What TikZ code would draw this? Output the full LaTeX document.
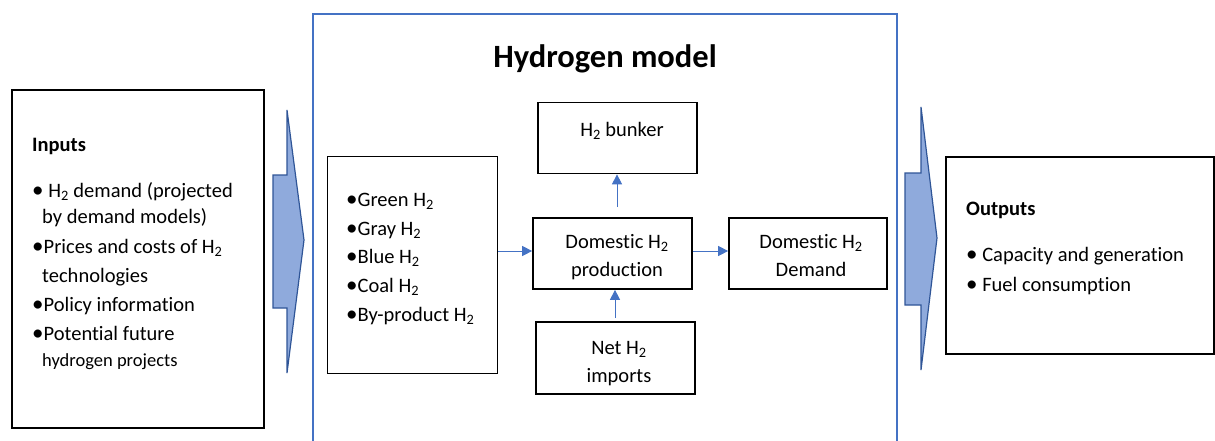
\documentclass[tikz,border=0pt]{standalone}
\usepackage{fontspec}
\setmainfont{Carlito}[Ligatures={NoCommon}]
\usetikzlibrary{arrows.meta}
\definecolor{frameblue}{HTML}{4472C4}
\definecolor{arrowfill}{HTML}{8FAADC}
\definecolor{arrowline}{HTML}{2F5597}
\newcommand{\Htwo}{H\textsubscript{2}}
\newcommand{\bul}{{\fontsize{23}{24}\selectfont •}}
\tikzset{
  boxnode/.style={draw=black, line width=1.7pt, inner sep=0pt},
  txt/.style={anchor=base west, inner sep=0pt, font=\fontsize{20.5}{24}\selectfont},
  ctxt/.style={anchor=base, inner sep=0pt, font=\fontsize{20.5}{24}\selectfont},
  headtxt/.style={anchor=base west, inner sep=0pt, font=\fontsize{20.5}{24}\selectfont\bfseries},
  flow/.style={draw=frameblue, line width=0.9pt, -{Triangle[length=10pt,width=10pt]}},
  blockarrow/.style={draw=arrowline, fill=arrowfill, line width=1.2pt, line join=miter}
}
\begin{document}
\begin{tikzpicture}[x=1pt,y=-1pt]
\useasboundingbox (0,0) rectangle (1215,441);
% main frame
\draw[frameblue, line width=1.4pt] (313,450) -- (313,14) -- (897,14) -- (897,450);
\node[anchor=base, inner sep=0pt, font=\fontsize{32.5}{36}\selectfont\bfseries] (title) at (605,68) {Hydrogen model};

% inputs
\node[boxnode, minimum width=252pt, minimum height=338pt] (inputs) at (138,259) {};
\node[headtxt] (inhead) at (32,151) {Inputs};
\node[txt] (in1) at (32,197) {\bul\ \Htwo{} demand (projected};
\node[txt] (in1b) at (42,223) {by demand models)};
\node[txt] (in2) at (32,253) {\bul Prices and costs of \Htwo};
\node[txt] (in2b) at (42,282) {technologies};
\node[txt] (in3) at (32,311) {\bul Policy information};
\node[txt] (in4) at (32,340) {\bul Potential future};
\node[anchor=base west, inner sep=0pt, font=\fontsize{18.5}{21}\selectfont] (in4b) at (42,366) {hydrogen projects};

% left block arrow
\draw[blockarrow] (273,175) -- (287,175) -- (287,110) -- (304,240) -- (287,373) -- (287,308) -- (273,308) -- cycle;

% sources
\node[boxnode, minimum width=170pt, minimum height=217pt] (src) at (412.5,265) {};
\node[txt] (s1) at (346,206) {\bul Green \Htwo};
\node[txt] (s2) at (346,235) {\bul Gray \Htwo};
\node[txt] (s3) at (346,263) {\bul Blue \Htwo};
\node[txt] (s4) at (346,292) {\bul Coal \Htwo};
\node[txt] (s5) at (346,321) {\bul By-product \Htwo};

% bunker
\node[boxnode, minimum width=159pt, minimum height=71pt] (bunker) at (617.5,138) {};
\node[ctxt] at (622,136) {\Htwo{} bunker};

% production
\node[boxnode, minimum width=159pt, minimum height=71pt] (prod) at (612.5,253.5) {};
\node[ctxt] at (617,248) {Domestic \Htwo};
\node[ctxt] at (617,276) {production};

% imports
\node[boxnode, minimum width=159pt, minimum height=72pt] (imp) at (615.5,358) {};
\node[ctxt] at (619,354) {Net \Htwo};
\node[ctxt] at (619,382) {imports};

% demand
\node[boxnode, minimum width=158pt, minimum height=71pt] (dem) at (808,253.5) {};
\node[ctxt] at (811,248) {Domestic \Htwo};
\node[ctxt] at (811,276) {Demand};

% flows
\coordinate (pb) at (617,207);
\coordinate (pi) at (615,318);
\draw[flow] (src.east |- 0,251) -- (prod.west |- 0,251);
\draw[flow] (pb) -- (bunker.south -| pb);
\draw[flow] (pi) -- (prod.south -| pi);
\draw[flow] (prod.east |- 0,251) -- (dem.west |- 0,251);

% right block arrow
\draw[blockarrow] (905,173) -- (921,173) -- (921,107) -- (937,238) -- (921,370) -- (921,305) -- (905,305) -- cycle;

% outputs
\node[boxnode, minimum width=268pt, minimum height=197pt] (out) at (1080,255.5) {};
\node[headtxt] (outhead) at (966,215) {Outputs};
\node[txt] (o1) at (966,261) {\bul\ Capacity and generation};
\node[txt] (o2) at (966,291) {\bul\ Fuel consumption};
\end{tikzpicture}
\end{document}
